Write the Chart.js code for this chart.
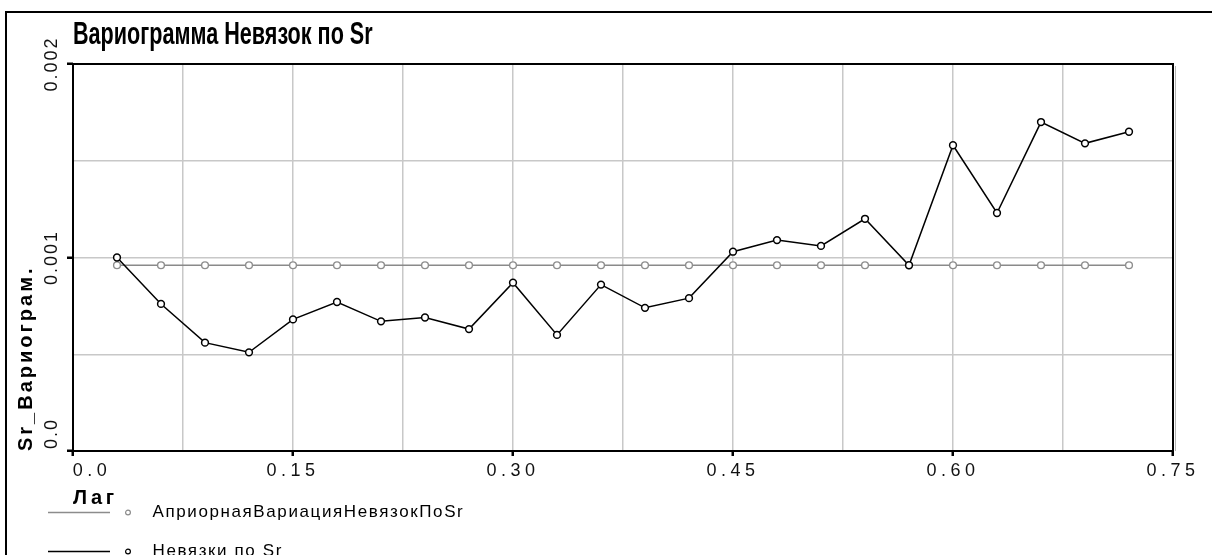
<!DOCTYPE html>
<html>
<head>
<meta charset="utf-8">
<script src="https://cdn.jsdelivr.net/npm/chart.js@4.4.1/dist/chart.umd.min.js"></script>
<style>
html,body{margin:0;padding:0;background:#fff;}
#wrap{width:1212px;height:555px;position:relative;}
canvas{display:block;}
</style>
</head>
<body>
<div id="wrap"><canvas id="c" width="1212" height="555"></canvas></div>
<script>
// ---- data ----
const chartTitle = 'Вариограмма Невязок по Sr';
const xAxisTitle = 'Лаг';
const yAxisTitle = 'Sr_Вариограм.';
const seriesNames = ['АприорнаяВариацияНевязокПоSr', 'Невязки по Sr'];
const lags = [0.03, 0.06, 0.09, 0.12, 0.15, 0.18, 0.21, 0.24, 0.27, 0.30, 0.33, 0.36,
              0.39, 0.42, 0.45, 0.48, 0.51, 0.54, 0.57, 0.60, 0.63, 0.66, 0.69, 0.72];
const aprioriVariance = [0.00096, 0.00096, 0.00096, 0.00096, 0.00096, 0.00096, 0.00096, 0.00096,
                         0.00096, 0.00096, 0.00096, 0.00096, 0.00096, 0.00096, 0.00096, 0.00096,
                         0.00096, 0.00096, 0.00096, 0.00096, 0.00096, 0.00096, 0.00096, 0.00096];
const residuals = [0.00100, 0.00076, 0.00056, 0.00051, 0.00068, 0.00077, 0.00067, 0.00069,
                   0.00063, 0.00087, 0.00060, 0.00086, 0.00074, 0.00079, 0.00103, 0.00109,
                   0.00106, 0.00120, 0.00096, 0.00158, 0.00123, 0.00170, 0.00159, 0.00165];
const xTickLabels = ['0.0', '0.15', '0.30', '0.45', '0.60', '0.75'];
const yTickLabels = ['0.0', '0.001', '0.002'];

// ---- styles ----
const FONT = "'Liberation Sans', Arial, sans-serif";
const X_STEP = 0.075, Y_STEP = 0.0005;
const LEGEND_WRAP = 520;
const TITLE_SQUEEZE = 0.675;
Chart.defaults.font.family = FONT;

function legendGlyph(lineColor, markColor) {
  const c = document.createElement('canvas');
  c.width = 122; c.height = 13;
  const g = c.getContext('2d');
  g.strokeStyle = lineColor; g.lineWidth = 1.5;
  g.beginPath(); g.moveTo(26, 6.5); g.lineTo(88, 6.5); g.stroke();
  g.beginPath(); g.arc(106, 6.5, 2.4, 0, Math.PI * 2);
  g.fillStyle = '#fff'; g.fill();
  g.lineWidth = 1.2; g.strokeStyle = markColor; g.stroke();
  return c;
}
const glyphs = [legendGlyph('#8c8c8c', '#8c8c8c'), legendGlyph('#000', '#000')];

function withSpacing(obj, name, sp) {
  if (!obj || obj['_sp_' + name]) return;
  obj['_sp_' + name] = true;
  const orig = obj[name];
  obj[name] = function (...a) {
    const ctx = this.ctx; const prev = ctx.letterSpacing;
    ctx.letterSpacing = sp; orig.apply(this, a); ctx.letterSpacing = prev;
  };
}

const teePlugin = {
  id: 'teeLook',
  beforeLayout(chart) {
    const lg = chart.legend;
    if (lg && !lg._teeFit) {
      lg._teeFit = true;
      const of = lg.fit;
      lg.fit = function () { const mw = this.maxWidth; this.maxWidth = LEGEND_WRAP; of.call(this); this.maxWidth = mw; };
      const od = lg.draw;
      lg.draw = function (a) {
        const r = this.right; this.right = this.left + LEGEND_WRAP;
        const ctx = this.ctx; const prev = ctx.letterSpacing; ctx.letterSpacing = '1.6px';
        od.call(this, a);
        ctx.letterSpacing = prev; this.right = r;
      };
    }
    const tb = chart.titleBlock;
    if (tb && !tb._tee) {
      tb._tee = true;
      const od = tb.draw;
      tb.draw = function (a) {
        const ctx = this.ctx; ctx.save();
        ctx.translate(this.left, 0); ctx.scale(TITLE_SQUEEZE, 1); ctx.translate(-this.left, 0);
        od.call(this, a); ctx.restore();
      };
    }
    withSpacing(chart.scales.x, 'drawLabels', '4.5px');
    withSpacing(chart.scales.y, 'drawLabels', '2px');
    withSpacing(chart.scales.x, 'drawTitle', '3.5px');
    withSpacing(chart.scales.y, 'drawTitle', '3px');
  },
  beforeDraw(chart) {
    const ctx = chart.ctx;
    ctx.save();
    ctx.fillStyle = '#fff'; ctx.fillRect(0, 0, chart.width, chart.height);
    ctx.strokeStyle = '#000'; ctx.lineWidth = 2;
    ctx.beginPath(); ctx.moveTo(6, chart.height); ctx.lineTo(6, 12); ctx.lineTo(chart.width, 12); ctx.stroke();
    ctx.restore();
  },
  beforeDatasetsDraw(chart) {
    const {ctx, chartArea: a} = chart;
    ctx.save();
    ctx.strokeStyle = '#b4b4b4'; ctx.lineWidth = 1;
    ctx.beginPath(); ctx.moveTo(a.right + 2.5, a.top + 2); ctx.lineTo(a.right + 2.5, a.bottom); ctx.stroke();
    ctx.strokeStyle = '#000'; ctx.lineWidth = 2;
    ctx.strokeRect(a.left, a.top, a.right - a.left, a.bottom - a.top);
    ctx.restore();
  }
};

const isMajor = (v, step) => Math.round(v / step) % 2 === 0;

new Chart(document.getElementById('c'), {
  type: 'line',
  data: {
    datasets: [
      {
        label: seriesNames[0],
        data: lags.map((x, i) => ({x, y: aprioriVariance[i]})),
        borderColor: '#8a8a8a', borderWidth: 1.5,
        pointRadius: 3.4, pointBorderWidth: 1.4,
        pointBorderColor: '#8e8e8e', pointBackgroundColor: '#fff',
        tension: 0, order: 1
      },
      {
        label: seriesNames[1],
        data: lags.map((x, i) => ({x, y: residuals[i]})),
        borderColor: '#000', borderWidth: 1.5,
        pointRadius: 3.4, pointBorderWidth: 1.5,
        pointBorderColor: '#000', pointBackgroundColor: '#fff',
        tension: 0, order: 0
      }
    ]
  },
  options: {
    responsive: false,
    animation: false,
    events: [],
    layout: {padding: {left: 0, right: 39, top: 0, bottom: 0}},
    scales: {
      x: {
        type: 'linear', position: 'bottom',
        min: 0, max: 0.75,
        afterFit: (s) => { s.height = 31; },
        border: {display: false},
        grid: {
          color: '#c8c8c8', lineWidth: 1.5,
          drawTicks: true, tickLength: 5, tickWidth: 2.5,
          tickColor: (c) => (c.tick && isMajor(c.tick.value, X_STEP)) ? '#000' : 'rgba(0,0,0,0)'
        },
        ticks: {
          stepSize: X_STEP, autoSkip: false, maxRotation: 0, minRotation: 0,
          padding: 4, color: '#111',
          font: {size: 18, family: FONT},
          callback: (v) => {
            const k = Math.round(v / X_STEP);
            if (k % 2 !== 0) return '';
            const lab = xTickLabels[k / 2];
            return k === 0 ? '    ' + lab : lab;
          }
        },
        title: {
          display: true, text: xAxisTitle, align: 'start', color: '#000',
          font: {size: 20, weight: 'bold', family: FONT},
          padding: {top: 0, bottom: -28}
        }
      },
      y: {
        type: 'linear', position: 'left',
        min: 0, max: 0.002,
        afterFit: (s) => { s.width = 73; },
        border: {display: false},
        grid: {
          color: '#c8c8c8', lineWidth: 1.5,
          drawTicks: true, tickLength: 6, tickWidth: 2.5,
          tickColor: (c) => (c.tick && isMajor(c.tick.value, Y_STEP)) ? '#000' : 'rgba(0,0,0,0)'
        },
        ticks: {
          stepSize: Y_STEP, autoSkip: false,
          minRotation: 90, maxRotation: 90,
          crossAlign: 'center', padding: -10.5,
          color: '#111', font: {size: 18, family: FONT},
          callback: (v) => {
            const k = Math.round(v / Y_STEP);
            if (k % 2 !== 0) return '';
            const lab = yTickLabels[k / 2];
            return k === 0 ? '     ' + lab : lab;
          }
        },
        title: {
          display: true, text: yAxisTitle, align: 'start', color: '#000',
          font: {size: 20, weight: 'bold', family: FONT},
          padding: {top: 14, bottom: 0}
        }
      }
    },
    plugins: {
      tooltip: {enabled: false},
      title: {
        display: true, text: chartTitle, align: 'start', fullSize: false,
        color: '#000', font: {size: 32, weight: 'bold', family: FONT},
        padding: {top: 16, bottom: 9.6}
      },
      legend: {
        display: true, position: 'bottom', align: 'start',
        maxHeight: 73,
        labels: {
          usePointStyle: true, pointStyleWidth: 122, padding: 22,
          color: '#000', font: {size: 17, family: FONT},
          generateLabels: () => seriesNames.map((t, i) => ({
            text: t, pointStyle: glyphs[i], fontColor: '#000',
            fillStyle: '#fff', strokeStyle: '#fff', lineWidth: 0,
            hidden: false, datasetIndex: i
          }))
        }
      }
    }
  },
  plugins: [teePlugin]
});
</script>
</body>
</html>
